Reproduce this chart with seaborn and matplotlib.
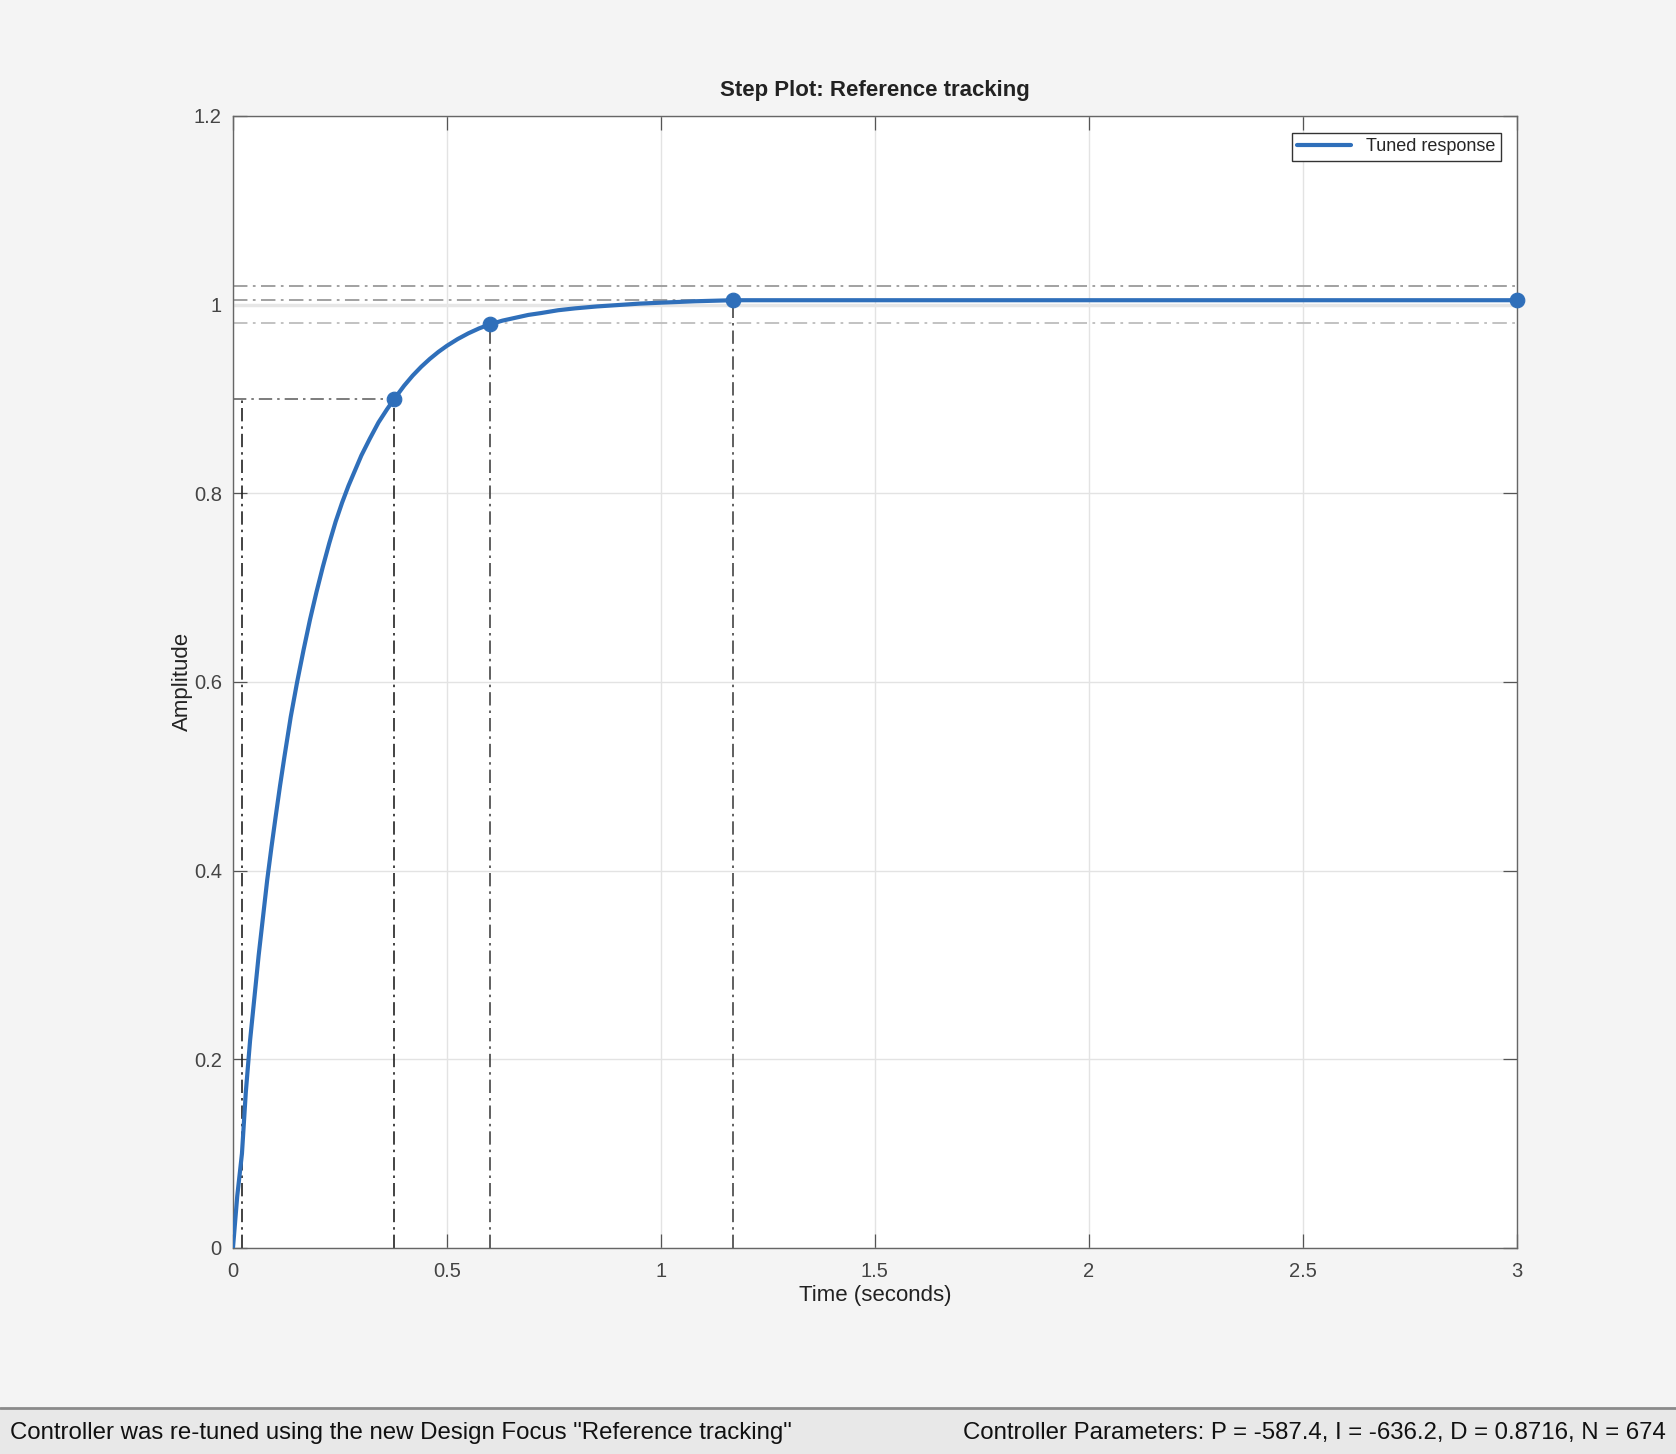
import matplotlib
matplotlib.use("Agg")
import matplotlib.pyplot as plt
from matplotlib.patches import Rectangle
from matplotlib.lines import Line2D
import pandas as pd
import seaborn as sns

# step response
time_s = [0, 0.01, 0.021, 0.03, 0.04, 0.05, 0.06, 0.07, 0.08, 0.09, 0.10, 0.11,
          0.12, 0.135, 0.15, 0.165, 0.18, 0.195, 0.21, 0.225, 0.24, 0.255, 0.27,
          0.285, 0.30, 0.32, 0.34, 0.36, 0.377, 0.40, 0.42, 0.44, 0.46, 0.48,
          0.50, 0.525, 0.55, 0.575, 0.60, 0.63, 0.66, 0.69, 0.72, 0.76, 0.80,
          0.85, 0.90, 0.95, 1.00, 1.08, 1.168, 2.0, 3.0]
amplitude = [0, 0.055, 0.10, 0.165, 0.22, 0.265, 0.31, 0.35, 0.39, 0.425, 0.458, 0.490,
             0.520, 0.563, 0.600, 0.634, 0.666, 0.695, 0.722, 0.747, 0.770, 0.790, 0.808,
             0.824, 0.840, 0.858, 0.875, 0.889, 0.900, 0.914, 0.9247, 0.9341, 0.9424, 0.9498,
             0.9563, 0.9634, 0.9695, 0.9747, 0.979, 0.983, 0.986, 0.989, 0.991, 0.994, 0.996,
             0.998, 0.9995, 1.001, 1.002, 1.0035, 1.0046, 1.0046, 1.0046]

# characteristic points (rise 90%, settling, peak, steady state)
char_t = [0.377, 0.600, 1.168, 3.0]
char_v = [0.900, 0.979, 1.0046, 1.0046]

rise_t0 = 0.021
final_value = 1.0
band_hi, band_lo = 1.02, 0.98

x_ticks = [0, 0.5, 1, 1.5, 2, 2.5, 3]
x_labels = ["0", "0.5", "1", "1.5", "2", "2.5", "3"]
y_ticks = [0, 0.2, 0.4, 0.6, 0.8, 1.0, 1.2]
y_labels = ["0", "0.2", "0.4", "0.6", "0.8", "1", "1.2"]

sns.set_theme(style="whitegrid")
plt.rcParams['font.family'] = ['Liberation Sans', 'DejaVu Sans']

blue = "#2F6FBA"
fig = plt.figure(figsize=(16.76, 14.54), dpi=100, facecolor="#f4f4f4")
ax = fig.add_axes([0.139, 0.1417, 0.766, 0.7786])
ax.set_facecolor("white")

df = pd.DataFrame({"Time": time_s, "Amplitude": amplitude})
pts = pd.DataFrame({"Time": char_t, "Amplitude": char_v})

# reference lines
dash = (0, (8, 3, 1.5, 3))
ax.plot([0, 3], [final_value, final_value], color="#e6e6e6", lw=2.5, zorder=1)
ax.plot([0, 3], [band_hi, band_hi], color="#9a9a9a", lw=1.3, ls=dash, zorder=2)
ax.plot([0, 3], [band_lo, band_lo], color="#bdbdbd", lw=1.3, ls=dash, zorder=2)
ax.plot([0, char_t[2]], [char_v[2], char_v[2]], color="#9a9a9a", lw=1.3, ls=dash, zorder=2)
ax.plot([0, char_t[0]], [0.9, 0.9], color="#666666", lw=1.2, ls=dash, zorder=2)
ax.plot([rise_t0, rise_t0], [0, 0.9], color="#222222", lw=1.2, ls=dash, zorder=2)
ax.plot([char_t[0], char_t[0]], [0, 0.9], color="#222222", lw=1.2, ls=dash, zorder=2)
ax.plot([char_t[1], char_t[1]], [0, char_v[1]], color="#444444", lw=1.2, ls=dash, zorder=2)
ax.plot([char_t[2], char_t[2]], [0, char_v[2]], color="#444444", lw=1.2, ls=dash, zorder=2)

sns.lineplot(data=df, x="Time", y="Amplitude", ax=ax, color=blue, lw=3,
             zorder=4, legend=False)
sns.scatterplot(data=pts, x="Time", y="Amplitude", ax=ax, color=blue, s=110,
                edgecolor=blue, zorder=5, clip_on=False, legend=False)

ax.set_xlim(0, 3)
ax.set_ylim(0, 1.2)
ax.set_xticks(x_ticks)
ax.set_xticklabels(x_labels)
ax.set_yticks(y_ticks)
ax.set_yticklabels(y_labels)
ax.grid(True, color="#e3e3e3", lw=1.0)
ax.tick_params(direction="in", length=10, width=0.9, color="#555555",
               labelcolor="#444444", labelsize=14.5, top=True, right=True,
               bottom=True, left=True)
ax.tick_params(axis="x", pad=10)
ax.tick_params(axis="y", pad=8)
for sp in ax.spines.values():
    sp.set_color("#666666")
    sp.set_linewidth(1.0)

ax.set_xlabel("Time (seconds)", fontsize=16, color="#222222", labelpad=3)
ax.set_ylabel("Amplitude", fontsize=16, color="#222222", labelpad=1)
ax.set_title("Step Plot: Reference tracking", fontsize=16, fontweight="bold",
             color="#222222", pad=14)

handle = Line2D([], [], color=blue, lw=3)
leg = ax.legend([handle], ["Tuned response"], loc="upper right", fontsize=13,
                frameon=True, fancybox=False, edgecolor="#333333", framealpha=1,
                handlelength=3.0, borderpad=0.3, borderaxespad=0,
                bbox_to_anchor=(0.9875, 0.985))
leg.get_frame().set_linewidth(1.0)

# status bar at the bottom
fig.patches.append(Rectangle((0, 0), 1, 0.0316, transform=fig.transFigure,
                             facecolor="#e8e8e8", edgecolor="none", zorder=0))
fig.add_artist(Line2D([0, 1], [0.0316, 0.0316], transform=fig.transFigure,
                      color="#8a8a8a", lw=2))
fig.text(0.006, 0.0145, 'Controller was re-tuned using the new Design Focus "Reference tracking"',
         fontsize=17.3, color="#111111", va="center", ha="left")
fig.text(0.994, 0.0145, "Controller Parameters: P = -587.4, I = -636.2, D = 0.8716, N = 674",
         fontsize=17.3, color="#111111", va="center", ha="right")

fig.savefig("out.png", dpi=100, facecolor=fig.get_facecolor())
